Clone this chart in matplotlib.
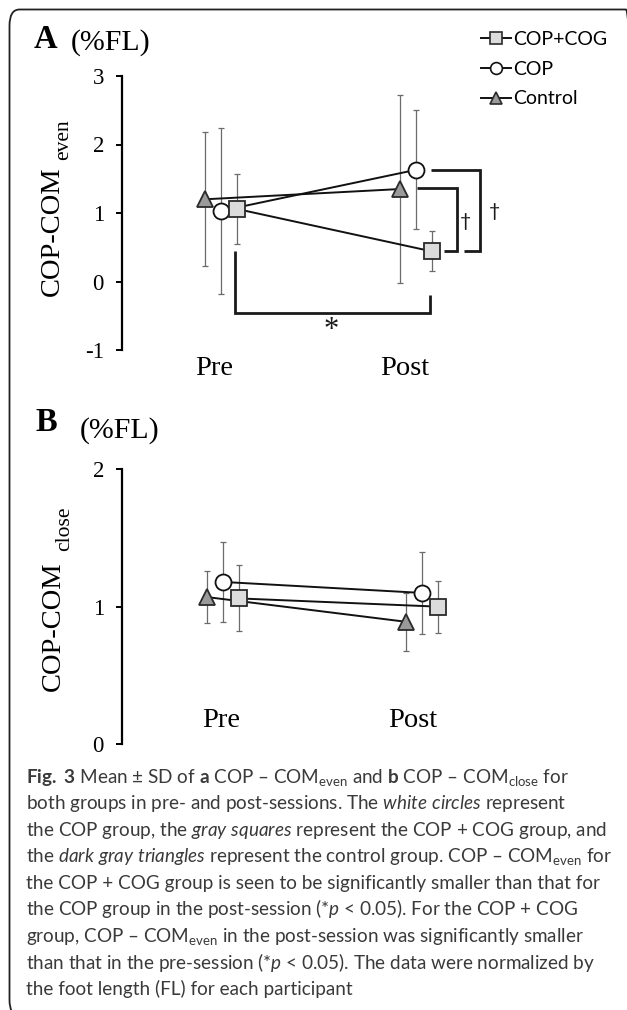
import matplotlib
matplotlib.use("Agg")
import matplotlib.pyplot as plt
from matplotlib.lines import Line2D
from matplotlib.patches import FancyBboxPatch
import matplotlib.transforms as mtransforms

# ---- data ----
sessions = ["Pre", "Post"]
groups = ["COP+COG", "COP", "Control"]

# panel A: COP-COM even (%FL)
cop_cog_even = [1.06, 0.44]
cop_cog_even_sd = [0.51, 0.29]
cop_even = [1.03, 1.63]
cop_even_sd = [1.21, 0.87]
control_even = [1.20, 1.35]
control_even_sd = [0.98, 1.37]

# panel B: COP-COM close (%FL)
cop_cog_close = [1.06, 1.00]
cop_cog_close_sd = [0.24, 0.19]
cop_close = [1.18, 1.10]
cop_close_sd = [0.29, 0.30]
control_close = [1.07, 0.89]
control_close_sd = [0.19, 0.21]

caption_lines = [
    r"$\mathbf{Fig.}$ $\mathbf{3}$ Mean ± SD of $\mathbf{a}$ COP – COM$_{\mathrm{even}}$ and $\mathbf{b}$ COP – COM$_{\mathrm{close}}$ for",
    r"both groups in pre- and post-sessions. The $\mathit{white\ circles}$ represent",
    r"the COP group, the $\mathit{gray\ squares}$ represent the COP + COG group, and",
    r"the $\mathit{dark\ gray\ triangles}$ represent the control group. COP – COM$_{\mathrm{even}}$ for",
    "the COP + COG group is seen to be significantly smaller than that for",
    r"the COP group in the post-session (*$\mathit{p}$ < 0.05). For the COP + COG",
    r"group, COP – COM$_{\mathrm{even}}$ in the post-session was significantly smaller",
    r"than that in the pre-session (*$\mathit{p}$ < 0.05). The data were normalized by",
    "the foot length (FL) for each participant",
]

W, H = 627, 1010
SERIF = 'Liberation Serif'
SANS = 'Lato'
CAP = 'Lato'

plt.rcParams['axes.unicode_minus'] = False
plt.rcParams['mathtext.fontset'] = 'custom'
plt.rcParams['mathtext.rm'] = CAP
plt.rcParams['mathtext.it'] = CAP + ':italic'
plt.rcParams['mathtext.bf'] = CAP + ':bold'

fig = plt.figure(figsize=(W / 100, H / 100), dpi=100)


def fx(x):
    return x / W


def fy(y):
    return 1 - y / H


styles = {
    "COP+COG": dict(marker='s', mfc='#dcdcdc', mec='#2a2a2a', ms=11.5),
    "COP": dict(marker='o', mfc='white', mec='#111111', ms=11.5),
    "Control": dict(marker='^', mfc='#9a9a9a', mec='#2a2a2a', ms=12),
}
offsets = {"Control": -0.081, "COP": 0.0, "COP+COG": 0.081}


def draw_panel(ax, series, ylim, yticks):
    xs = [0, 1]
    for name in ["Control", "COP", "COP+COG"]:
        mean, sd = series[name]
        px = [x + offsets[name] for x in xs]
        ax.errorbar(px, mean, yerr=sd, fmt='none', ecolor='#6b6b6b',
                    elinewidth=0.9, capsize=2.3, capthick=0.9, zorder=2,
                    clip_on=False)
    for name in ["Control", "COP", "COP+COG"]:
        mean, sd = series[name]
        px = [x + offsets[name] for x in xs]
        ax.plot(px, mean, color='#111111', lw=1.4, zorder=3, clip_on=False,
                mew=1.3, **styles[name])
    ax.set_xlim(-0.506, 1.533)
    ax.set_ylim(*ylim)
    ax.set_yticks(yticks)
    ax.set_yticklabels([str(t) for t in yticks], fontfamily=SERIF, fontsize=16.5)
    for s in ['top', 'right', 'bottom']:
        ax.spines[s].set_visible(False)
    ax.spines['left'].set_linewidth(1.6)
    ax.tick_params(axis='y', direction='out', length=4.5, width=1.4, pad=8.5)
    ax.set_xticks([])
    ax.patch.set_alpha(0)


def ylabel(base_x, bottom_y, sub, sub_gap):
    # rotated "COP-COM" with a smaller subscript further down the baseline
    t = fig.text(fx(base_x), fy(bottom_y), "COP-COM", fontfamily=SERIF, fontsize=20.5,
                 rotation=90, rotation_mode='anchor', ha='left', va='baseline')
    fig.canvas.draw()
    bb = t.get_window_extent()
    top = H - bb.y1
    fig.text(fx(base_x + 9), fy(top - sub_gap), sub, fontfamily=SERIF, fontsize=15.5,
             rotation=90, rotation_mode='anchor', ha='left', va='baseline')


# ---- panel A ----
axA = fig.add_axes([fx(122), 1 - 350 / H, 398 / W, 274 / H])
seriesA = {"COP+COG": (cop_cog_even, cop_cog_even_sd),
           "COP": (cop_even, cop_even_sd),
           "Control": (control_even, control_even_sd)}
draw_panel(axA, seriesA, (-1, 3), [-1, 0, 1, 2, 3])

bk = dict(color='#1a1a1a', lw=2.0, clip_on=False, solid_capstyle='butt', solid_joinstyle='miter')
# Pre vs Post for COP+COG
xl = 0 + offsets["COP+COG"] - 0.007
xr = 1 + offsets["COP+COG"] - 0.007
axA.plot([xl, xl, xr, xr], [cop_cog_even[1], -0.46, -0.46, -0.19], **bk)
axA.text((xl + xr) / 2 - 0.01, -0.72, "*", fontfamily=SERIF, fontsize=22,
         ha='center', va='center', color='#1a1a1a')
# COP+COG vs Control (post)
x_in = 1.210
axA.plot([1 + offsets["Control"] + 0.086, x_in, x_in, 1 + offsets["COP+COG"] + 0.062],
         [1.37, 1.37, cop_cog_even[1], cop_cog_even[1]], **bk)
axA.text(x_in + 0.042, 0.88, "†", fontfamily=SANS, fontsize=14, ha='center',
         va='center', color='#1a1a1a')
# COP+COG vs COP (post)
x_out = 1.328
axA.plot([1 + offsets["COP"] + 0.077, x_out, x_out, 1.246],
         [cop_even[1], cop_even[1], cop_cog_even[1], cop_cog_even[1]], **bk)
axA.text(x_out + 0.072, 1.02, "†", fontfamily=SANS, fontsize=14, ha='center',
         va='center', color='#1a1a1a')

trA = mtransforms.blended_transform_factory(axA.transData, fig.transFigure)
axA.text(-0.035, fy(375), "Pre", transform=trA, fontfamily=SERIF, fontsize=20.5,
         ha='center', va='baseline')
axA.text(0.944, fy(375), "Post", transform=trA, fontfamily=SERIF, fontsize=20.5,
         ha='center', va='baseline')

# legend
handles = [Line2D([], [], color='#111111', lw=1.4, mew=1.2,
                  **dict(styles[g], ms=8.5 if g != "Control" else 9)) for g in groups]
fig.legend(handles, groups, loc='upper left', bbox_to_anchor=(fx(471), fy(21)),
           bbox_transform=fig.transFigure, frameon=False, borderpad=0,
           handlelength=1.55, handletextpad=0.1, labelspacing=0.66,
           prop=dict(family=SANS, size=14))

fig.text(fx(34), fy(48.5), "A", fontfamily=SERIF, fontweight='bold', fontsize=23.5,
         va='baseline', ha='left')
fig.text(fx(71), fy(50), "(%FL)", fontfamily=SERIF, fontsize=21.5,
         va='baseline', ha='left')
ylabel(59, 296.5, "even", 7)

# ---- panel B ----
axB = fig.add_axes([fx(122), 1 - 744 / H, 406 / W, 274.7 / H])
seriesB = {"COP+COG": (cop_cog_close, cop_cog_close_sd),
           "COP": (cop_close, cop_close_sd),
           "Control": (control_close, control_close_sd)}
draw_panel(axB, seriesB, (0, 2), [0, 1, 2])

trB = mtransforms.blended_transform_factory(axB.transData, fig.transFigure)
axB.text(-0.009, fy(727), "Pre", transform=trB, fontfamily=SERIF, fontsize=20.5,
         ha='center', va='baseline')
axB.text(0.955, fy(727), "Post", transform=trB, fontfamily=SERIF, fontsize=20.5,
         ha='center', va='baseline')

fig.text(fx(35), fy(431.5), "B", fontfamily=SERIF, fontweight='bold', fontsize=23.5,
         va='baseline', ha='left')
fig.text(fx(80), fy(437.5), "(%FL)", fontfamily=SERIF, fontsize=21.5,
         va='baseline', ha='left')
ylabel(60, 691, "close", 10)

# ---- caption ----
for i, line in enumerate(caption_lines):
    fig.text(fx(26), fy(782.5 + i * 26.6), line, fontfamily=CAP, fontsize=13.6,
             color='#3a3a3a', va='baseline', ha='left')

# frame around the figure
box = FancyBboxPatch((fx(9.5), fy(1016)), fx(636) - fx(9.5), fy(9.5) - fy(1016),
                     boxstyle='round,pad=0,rounding_size=0.016',
                     transform=fig.transFigure, fill=False, ec='#222222', lw=1.3,
                     clip_on=False)
fig.patches.append(box)

fig.savefig("out.png", dpi=100)
